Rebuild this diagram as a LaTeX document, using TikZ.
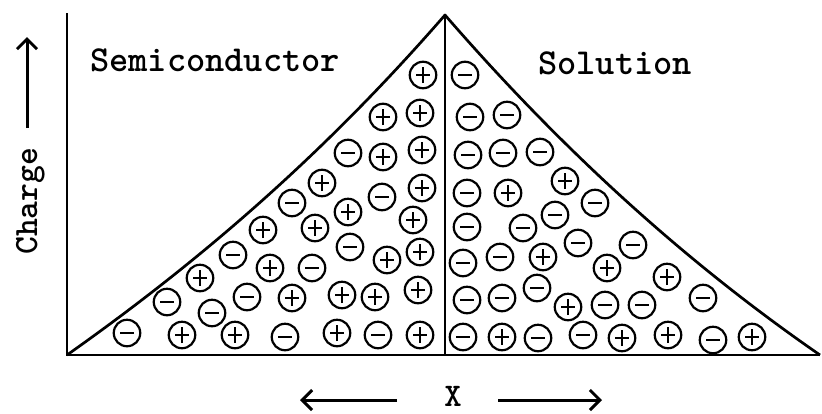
\documentclass[tikz,border=0pt]{standalone}
\usepackage{fontspec}
\usetikzlibrary{arrows.meta}
\begin{document}
\begin{tikzpicture}[x=1pt,y=-1pt,
  lbl/.style={inner sep=0pt, text depth=0pt, font=\ttfamily\bfseries\fontsize{36.6}{40}\selectfont},
  ax/.style={line width=2pt},
  curv/.style={line width=2.7pt, line join=round},
  ion/.style={circle, draw, line width=2.2pt, minimum size=26.5pt, inner sep=0pt},
  minusion/.style={ion, path picture={\draw[line width=2.6pt] ([xshift=-7pt]path picture bounding box.center) -- ([xshift=7pt]path picture bounding box.center);}},
  plusion/.style={ion, path picture={\draw[line width=2.6pt] ([xshift=-7pt]path picture bounding box.center) -- ([xshift=7pt]path picture bounding box.center) ([yshift=-8pt]path picture bounding box.center) -- ([yshift=8pt]path picture bounding box.center);}},
  arr/.style={line width=3pt, -{Straight Barb[length=10pt,width=20pt,line width=3pt]}}
]
\useasboundingbox (0,0) rectangle (822,413);
% axes
\coordinate (o) at (67,355);
\coordinate (top) at (67,13);
\coordinate (e) at (820,355);
\coordinate (pk) at (445,15);
\coordinate (pkb) at (445,355);
\draw[ax] (top) -- (o) -- (e);
\draw[ax] (pk) -- (pkb);
% curves
\draw[curv] (o) .. controls (193,266) and (319,160) .. (pk)
            .. controls (569,158) and (694,268) .. (e);
% labels
\node[lbl, anchor=base west] (semi) at (90,71) {Semiconductor};
\node[lbl, anchor=base west] (sol) at (538,74) {Solution};
\node[lbl, anchor=base west, rotate=90, font=\ttfamily\bfseries\fontsize{34}{38}\selectfont] (chg) at (37,255) {Charge};
\node[lbl, anchor=base, font=\ttfamily\bfseries\fontsize{33}{36}\selectfont] (xl) at (453,406) {X};
% arrows
\coordinate (ca) at (27,128);
\coordinate (cb) at (27,37);
\draw[arr] (ca) -- (cb);
\coordinate (la) at (397,400);
\coordinate (lb) at (300,400);
\coordinate (ra) at (498,400);
\coordinate (rb) at (602,400);
\draw[arr] (la) -- (lb);
\draw[arr] (ra) -- (rb);
% positive ions
\foreach \x/\y [count=\i] in {423/75, 383/117, 420/113, 383/157, 422/150, 322/183, 422/188,
   348/212, 413/220, 263/230, 315/228, 387/260, 420/252, 270/268, 200/278,
   292/298, 342/295, 375/297, 418/290, 182/335, 235/335, 337/333, 420/335,
   565/181, 508/193, 543/257, 607/268, 667/277, 568/307, 502/337, 622/338, 668/335, 752/337}
  \node[plusion] (p\i) at (\x,\y) {};
% negative ions
\foreach \x/\y [count=\i] in {348/153, 382/197, 292/203, 350/247, 233/255, 312/268,
   167/302, 212/313, 247/297, 127/333, 285/337, 378/335,
   465/75, 470/117, 507/115, 468/155, 503/153, 540/152, 467/193, 595/203,
   467/227, 523/228, 555/215, 463/263, 500/257, 578/243, 633/245,
   467/300, 502/298, 537/288, 605/305, 642/305, 703/298,
   463/337, 538/338, 583/335, 713/340}
  \node[minusion] (n\i) at (\x,\y) {};
\end{tikzpicture}
\end{document}
